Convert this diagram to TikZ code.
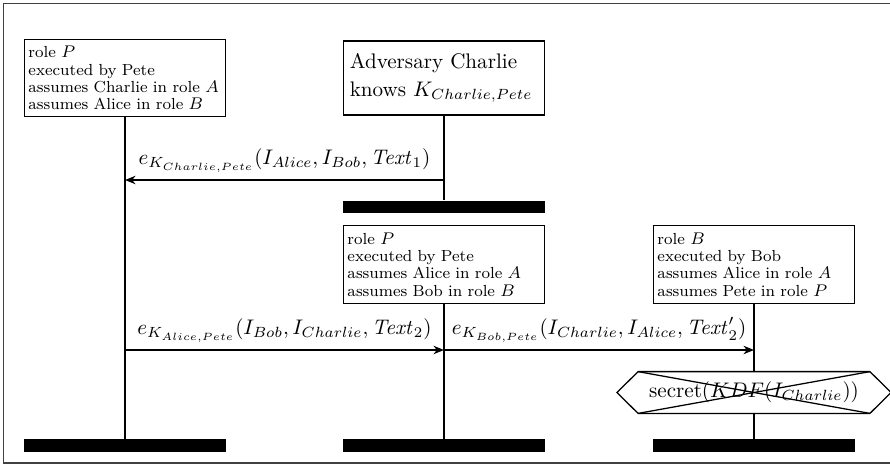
\documentclass[tikz,border=0pt]{standalone}
\usetikzlibrary{arrows.meta}
\tikzset{
        head/.style={draw=black, line width=0.6pt, minimum width=95.3pt, minimum height=35.1pt,
          inner xsep=1.9pt, text width=91.5pt, align=left, font=\fontsize{7.6}{8.2}\selectfont},
        bighead/.style={head, inner xsep=3pt, text width=89.3pt, font=\fontsize{10}{13.5}\selectfont},
        endbar/.style={fill=black, inner sep=0pt, minimum width=96.2pt, minimum height=6pt},
        lifeline/.style={line width=0.8pt},
        msg/.style={line width=0.7pt, -{Stealth[length=5pt, width=4pt]}},
        claimbox/.style={inner sep=0pt, minimum width=109.5pt, minimum height=19.4pt},
        hexa/.style={line width=0.6pt},
        frame/.style={draw=black!75, line width=0.6pt}
          }
\begin{document}
\begin{tikzpicture}[x=0.474pt, y=-0.474pt]
        \useasboundingbox (0,0) rectangle (890,466);
        \draw[frame] (3.5,3.5) rectangle (894,463);

        \node[head] (pete1) at (125,78) {role $P$\\executed by Pete\\assumes Charlie in role $A$\\assumes Alice in role $B$};
        \node[bighead] (charlie) at (444,78) {Adversary Charlie\\knows $K_{Charlie,Pete}$};
        \node[head] (pete2) at (444,264.5) {role $P$\\executed by Pete\\assumes Alice in role $A$\\assumes Bob in role $B$};
        \node[head] (bob) at (754,264.5) {role $B$\\executed by Bob\\assumes Alice in role $A$\\assumes Pete in role $P$};

        \node[endbar] (pete1end) at (125,445.5) {};
        \node[endbar] (charlieend) at (444,207) {};
        \node[endbar] (pete2end) at (444,445.5) {};
        \node[endbar] (bobend) at (754,445.5) {};

        \node[claimbox] (claim) at (754,392.5) {secret$(KDF(I_{Charlie}))$};

        \draw[lifeline] (pete1) -- (pete1end);
        \draw[lifeline] (charlie) -- (charlieend);
        \draw[lifeline] (pete2) -- (pete2end);
        \draw[lifeline] (bob) -- (claim.north);
        \draw[lifeline] (claim.south) -- (bobend);

        \coordinate (m1) at (0,180);
        \coordinate (m2) at (0,350);
        \draw[msg] (charlie |- m1) -- node[above] {$e_{K_{Charlie,Pete}}(I_{Alice}, I_{Bob}, \mathit{Text}_1)$} (pete1 |- m1);
        \draw[msg] (pete1 |- m2) -- node[above] {$e_{K_{Alice,Pete}}(I_{Bob}, I_{Charlie}, \mathit{Text}_2)$} (pete2 |- m2);
        \draw[msg] (pete2 |- m2) -- node[above] {$e_{K_{Bob,Pete}}(I_{Charlie}, I_{Alice}, \mathit{Text}'_2)$} (bob |- m2);

        \draw[hexa] (claim.north west) -- (claim.north east) -- ([xshift=10pt]claim.east)
          -- (claim.south east) -- (claim.south west) -- ([xshift=-10pt]claim.west) -- cycle;
        \draw[hexa] (claim.north west) -- (claim.south east);
        \draw[hexa] (claim.south west) -- (claim.north east);
\end{tikzpicture}
\end{document}
